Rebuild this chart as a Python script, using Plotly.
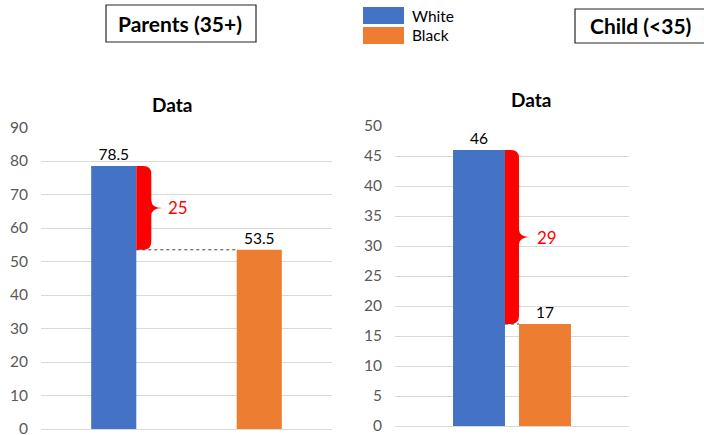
import plotly.graph_objects as go
from plotly.subplots import make_subplots

# ---- data ----
groups = ["White", "Black"]
parents_values = [78.5, 53.5]   # Parents (35+)
child_values = [46, 17]         # Child (<35)
parents_ticks = list(range(0, 91, 10))
child_ticks = list(range(0, 51, 5))

BLUE = "#4472C4"
ORANGE = "#ED7D31"
RED = "#FF0000"
GRID = "#D9D9D9"
FONT = "Lato, Carlito, Calibri, sans-serif"

W, H = 704, 435


def px_x(p):
    return p / W


def px_y(p):
    return 1 - p / H


fig = make_subplots(rows=1, cols=2)

# left panel: two separate categories
left_x = [0, 1]
left_w = 0.31
# right panel: clustered pair in one category
right_x = [-0.141, 0.141]
right_w = 0.222

for i, name in enumerate(groups):
    col = BLUE if i == 0 else ORANGE
    fig.add_trace(go.Bar(x=[left_x[i]], y=[parents_values[i]], width=left_w,
                         marker=dict(color=col, line_width=0), name=name,
                         text=[f"{parents_values[i]:g}"], textposition="outside",
                         textfont=dict(size=15.5, color="#000000", family=FONT),
                         cliponaxis=False, showlegend=False), row=1, col=1)
    fig.add_trace(go.Bar(x=[right_x[i]], y=[child_values[i]], width=right_w,
                         marker=dict(color=col, line_width=0), name=name,
                         text=[f"{child_values[i]:g}"], textposition="outside",
                         textfont=dict(size=15.5, color="#000000", family=FONT),
                         cliponaxis=False, showlegend=False), row=1, col=2)

axis_common = dict(showgrid=True, gridcolor=GRID, gridwidth=1, zeroline=True,
                   zerolinecolor=GRID, zerolinewidth=1, showline=False,
                   tickfont=dict(size=15.5, color="#595959", family=FONT),
                   ticks="", ticklabelstandoff=12, automargin=False,
                   ticklabeloverflow="allow")

fig.update_layout(
    xaxis=dict(domain=[px_x(41), px_x(332)], range=[-0.5, 1.5], visible=False,
               automargin=False),
    xaxis2=dict(domain=[px_x(395), px_x(629)], range=[-0.5, 0.5], visible=False,
                automargin=False),
    yaxis=dict(domain=[px_y(429), px_y(127.5)], range=[0, 90],
               tickvals=parents_ticks, **axis_common),
    yaxis2=dict(domain=[px_y(426), px_y(126)], range=[0, 50],
                tickvals=child_ticks, **axis_common),
    barmode="overlay",
    width=W, height=H,
    margin=dict(l=0, r=0, t=0, b=0, autoexpand=False),
    paper_bgcolor="white", plot_bgcolor="white",
    font=dict(family=FONT),
)


def brace(xref, yref, xanchor, top, bot, px_per_unit, w=15, tip=26, r=8, k=8):
    """Filled right-hand curly brace spanning [bot, top], drawn in pixels horizontally."""
    ry = r / px_per_unit
    ky = k / px_per_unit
    mid = (top + bot) / 2
    path = (f"M0,{top} L{w - r},{top} Q{w},{top} {w},{top - ry} "
            f"L{w},{mid + ky} Q{w},{mid} {tip},{mid} Q{w},{mid} {w},{mid - ky} "
            f"L{w},{bot + ry} Q{w},{bot} {w - r},{bot} L0,{bot} Z")
    fig.add_shape(type="path", path=path, xref=xref, yref=yref,
                  xsizemode="pixel", xanchor=xanchor,
                  fillcolor=RED, line=dict(color=RED, width=0))
    fig.add_annotation(x=xanchor, y=mid, xref=xref, yref=yref, xshift=tip + 4,
                       xanchor="left", yanchor="middle", showarrow=False,
                       text=f"{top - bot:g}",
                       font=dict(size=17, color=RED, family=FONT))


# gap braces and dotted guide lines
l_edge = left_x[0] + left_w / 2
brace("x", "y", l_edge, parents_values[0], parents_values[1], 3.35)
fig.add_shape(type="line", xref="x", yref="y", x0=l_edge, x1=left_x[1] - left_w / 2,
              y0=parents_values[1], y1=parents_values[1],
              line=dict(color="#404040", width=1, dash="dot"))

r_edge = right_x[0] + right_w / 2
brace("x2", "y2", r_edge, child_values[0], child_values[1], 6.0, w=14)
fig.add_shape(type="line", xref="x2", yref="y2", x0=r_edge, x1=right_x[1] - right_w / 2,
              y0=child_values[1], y1=child_values[1],
              line=dict(color="#404040", width=1, dash="dot"))

# panel titles
for cx, cy in [(172, 104), (531, 100)]:
    fig.add_annotation(x=px_x(cx), y=px_y(cy), xref="paper", yref="paper",
                       text="<b>Data</b>", showarrow=False,
                       xanchor="center", yanchor="middle",
                       font=dict(size=19, color="#000000", family=FONT))

# boxed headings
boxes = [("Parents (35+)", 106, 256, 5, 42, 180),
         ("Child (<35)", 575, 714, 9, 43, 640)]
for label, x0, x1, y0, y1, tx in boxes:
    fig.add_shape(type="rect", xref="paper", yref="paper",
                  x0=px_x(x0), x1=px_x(x1), y0=px_y(y1), y1=px_y(y0),
                  line=dict(color="#262626", width=1.2), fillcolor="white")
    fig.add_annotation(x=px_x(tx), y=px_y((y0 + y1) / 2), xref="paper", yref="paper",
                       text=f"<b>{label}</b>", showarrow=False,
                       xanchor="center", yanchor="middle",
                       font=dict(size=21, color="#000000", family=FONT))

# legend
for i, (name, col) in enumerate(zip(groups, [BLUE, ORANGE])):
    top = 7 + i * 20
    fig.add_shape(type="rect", xref="paper", yref="paper",
                  x0=px_x(363), x1=px_x(404), y0=px_y(top + 17), y1=px_y(top),
                  line_width=0, fillcolor=col)
    fig.add_annotation(x=px_x(410), y=px_y(top + 8.5), xref="paper", yref="paper",
                       text=name, showarrow=False, xanchor="left", yanchor="middle",
                       font=dict(size=15.5, color="#000000", family=FONT))

# page without default body margin or scrollbars so the figure fills the window
fig.write_html("out.html",
               post_script="document.body.style.margin='0';"
                           "document.documentElement.style.overflow='hidden';")
